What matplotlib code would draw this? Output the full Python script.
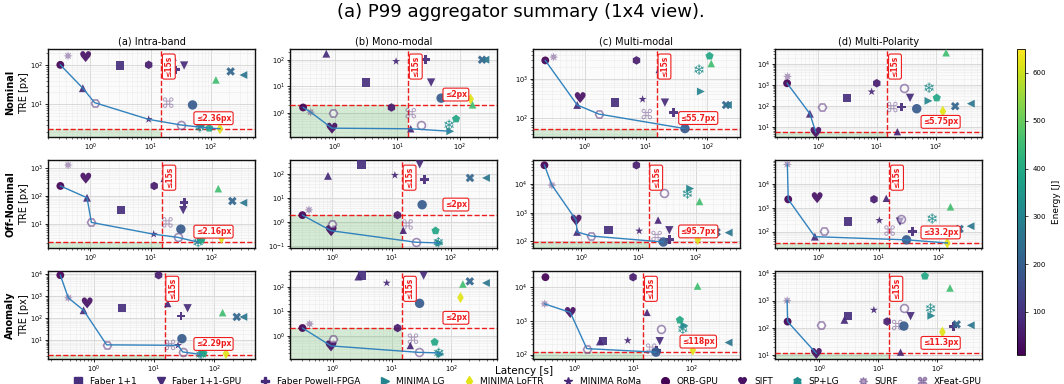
import numpy as np
import matplotlib
matplotlib.use("Agg")
import matplotlib.pyplot as plt
from matplotlib.colors import Normalize
from matplotlib.cm import ScalarMappable
from matplotlib.lines import Line2D

nan = np.nan

TITLE = "(a) P99 aggregator summary (1x4 view)."
SCENARIOS = ["Nominal", "Off-Nominal", "Anomaly"]
MODALITIES = ["(a) Intra-band", "(b) Mono-modal", "(c) Multi-modal", "(d) Multi-Polarity"]
LATENCY_BUDGET_S = 15.0
TRE_FLOOR_PX = 2.0
ENERGY_RANGE_J = (10.0, 650.0)

# Every list runs over the 12 panels: Nominal a-d, Off-Nominal a-d, Anomaly a-d.
# Latency in seconds, TRE in pixels (P99), NaN where a method has no result.
faber11_lat = [3.15, 3.15, 3.10, 3.12, 3.17, 3.10, 3.00, 3.04, 2.95, 3.10, 3.05, 3.03]
faber11_gpu_lat = [36, 35, 20.3, 36.5, 34, 30, 34.5, 22.5, 36, 34.4, 28.8, 35.2]
faber11_tre = [98, 14, 250, 248, 31, 256, 245, 260, 290, 285, 250, 265]

powell_fpga_lat = [26.2, 28.7, 27.8, 26.3, 35.3, 35.8, 34.5, 36, 28, nan, 25.4, 185]
powell_fpga_tre = [76, 100, 142, 91, 60, 61.5, 117, 100, 130, nan, 136, 110]

minima_lg_lat = [70, 71, 78, 75, 66, 65, 79.5, 75, 65, 66, 76.6, 79]
minima_lg_tre = [2.8, 0.21, 476, 178, 2.5, 0.14, 6840, 120, 2.5, 0.18, 735, 275]

minima_loftr_lat = [141, 151, nan, 132, 146, nan, 108, 138, 156, 144, 107, 122]
minima_loftr_tre = [2.36, 3.35, nan, 57, 3.0, nan, 117, 33.2, 2.5, 36, 136, 69]

minima_roma_lat = [9.3, 9.6, 8.8, 8.1, 11.1, 11.4, 10.3, 10.2, 25, 8.2, 8.1, 8.4]
minima_roma_tre = [4.1, 87, 304, 483, 4.2, 91, 232, 294, 6.0, 142, 262, 447]

orb_gpu_lat = [0.32, 0.31, 0.23, 0.295, 0.32, 0.31, 0.23, 0.31, 0.28, 0.31, 0.31, 0.29]
orb_lat = [9.3, 8.1, 7.0, 9.9, 11.3, 12.6, 9.2, 8.3, 11.9, 12.5, 10.0, 14.1]
orb_tre = [102, 1.63, 2870, 1220, 232, 2.0, 44400, 2240, 9300, 2.07, 20200, 168]

sift_lat = [0.84, 0.90, 0.85, 0.91, 0.84, 0.95, 0.82, 0.94, 0.78, 0.94, 0.83, 0.89]
sift_tre = [166, 0.274, 335, 5.75, 443, 0.45, 550, 2630, 510, 0.385, 1800, 11.3]

splg_lat = [65.6, 68, 73, 77, 60, 62, 71.4, 77.4, 60, 62, 72, 77]
splg_tre = [2.6, 0.365, 1690, 752, 2.16, 0.15, 4570, 350, 2.29, 0.2, 582, 515]

surf_lat = [0.43, 0.41, 0.315, 0.30, 0.43, 0.40, 0.31, 0.30, 0.38, 0.41, 0.30, 0.285]
surf_tre = [173, 1.09, 3480, 2550, 1320, 3.3, 9000, 65300, 860, 3.04, 3240, 1000]

xfeat_lat = [1.18, 0.95, 1.71, 1.17, 1.04, 1.0, 1.5, 1.24, 1.64, 1.03, 1.6, 1.07]
xfeat_gpu_lat = [19.6, 16.5, 10.3, 18.2, 18.7, 18.7, 20.7, 15.1, 18.4, 22.7, 20.5, 20.9]
xfeat_tre = [11, 1.0, 129, 91, 11.2, 0.82, 154, 110, 6.3, 0.76, 150, 126]

akaze_lat = [0.755, 0.73, 0.76, 0.72, 0.88, 0.84, 0.85, 0.86, 0.68, 2.72, 2.69, 2.66]
akaze_tre = [25.7, 168, 218, 44, 87, 85, 214, 61, 235, 260, 245, 194]

brisk_lat = [23.6, 16.5, 16.4, 22.2, 16.5, 15.8, 22, 13.3, 16.9, 20.5, 17.4, 23.8]
brisk_tre = [160, 0.26, 1690, 6.2, 430, 0.47, 550, 2460, 475, 0.40, 1800, 12.6]

kaze_lat = [31.7, 24.2, nan, 29.2, 27.4, 25.8, 28.2, 23, 29.9, 28.3, 30.7, 27.1]
kaze_tre = [2.95, 0.365, nan, 752, 3.25, 0.15, 4800, 350, 3.0, 0.21, 582, 515]

disk_lg_lat = [49.6, 50.7, 43, 47.4, 31.1, 33, 27.1, 28.9, 29, 29.4, 24.8, 27.1]
disk_lg_tre = [9.6, 3.65, 55.7, 76, 6.4, 5.4, 95.7, 45, 12, 21, 118, 115]

aliked_lg_lat = [93.8, 88, 108, 104, 68, 55.7, nan, nan, 66, 52.8, 64, 61.7]
aliked_lg_tre = [2.45, 0.61, 3700, 248, 2.6, 0.45, nan, nan, 2.6, 0.55, 1070, 7940]

dedode_lat = [121, 162, 115, 150, 129, nan, 116, 156, 137, 158, 129, 164]
dedode_tre = [42, 2.05, 2400, 34000, 185, nan, 2450, 1090, 184, 129, 11000, 2900]

dkm_lat = [212, 230, 200, 214, 220, 213, 230, 221, 235, 207, 199, 213]
dkm_tre = [69, 100, 218, 100, 66, 70, 210, 129, 117, 166, 228, 133]

gim_dkm_lat = [345, 260, 215, 395, 334, 398, 374, 337, 303, 388, 441, 369]
gim_dkm_tre = [56, 100, 218, 132, 57, 70, 202, 168, 117, 142, 228, 123]

# Mean energy per registration [J]
energy_j = {
    "Faber 1+1": 95, "Faber 1+1-GPU": 88, "Faber Powell-FPGA": 85,
    "MINIMA LG": 300, "MINIMA LoFTR": 620, "MINIMA RoMa": 80,
    "ORB-GPU": 12, "SIFT": 35, "SP+LG": 320, "SURF": 60, "XFeat-GPU": 60,
    "ORB": 55, "AKAZE": 85, "BRISK": 75, "XFeat": 60, "KAZE": 70,
    "DISK+LG": 190, "ALIKED+LG": 390, "DeDoDe": 455, "DKM": 215, "GIM+DKM": 262,
}

HEART = "$\u2665$"
SNOW = "$\u2744$"
CMD = "$\u2318$"

# name, latency, tre, marker, size, style, shown in legend
methods = [
    ("Faber 1+1", faber11_lat, faber11_tre, "s", 36, "solid", True),
    ("Faber 1+1-GPU", faber11_gpu_lat, faber11_tre, "v", 36, "solid", True),
    ("Faber Powell-FPGA", powell_fpga_lat, powell_fpga_tre, "P", 38, "solid", True),
    ("MINIMA LG", minima_lg_lat, minima_lg_tre, ">", 32, "solid", True),
    ("MINIMA LoFTR", minima_loftr_lat, minima_loftr_tre, "d", 32, "solid", True),
    ("MINIMA RoMa", minima_roma_lat, minima_roma_tre, "*", 36, "solid", True),
    ("ORB-GPU", orb_gpu_lat, orb_tre, "o", 32, "solid", True),
    ("SIFT", sift_lat, sift_tre, HEART, 62, "solid", True),
    ("SP+LG", splg_lat, splg_tre, SNOW, 58, "solid", True),
    ("SURF", surf_lat, surf_tre, (8, 1, 0), 42, "light", True),
    ("XFeat-GPU", xfeat_gpu_lat, xfeat_tre, CMD, 58, "light", True),
    ("ORB", orb_lat, orb_tre, "h", 38, "solid", False),
    ("AKAZE", akaze_lat, akaze_tre, "^", 32, "solid", False),
    ("BRISK", brisk_lat, brisk_tre, "^", 28, "solid", False),
    ("XFeat", xfeat_lat, xfeat_tre, "H", 34, "ring", False),
    ("KAZE", kaze_lat, kaze_tre, "o", 32, "ring", False),
    ("DISK+LG", disk_lg_lat, disk_lg_tre, "o", 46, "solid", False),
    ("ALIKED+LG", aliked_lg_lat, aliked_lg_tre, "p", 38, "solid", False),
    ("DeDoDe", dedode_lat, dedode_tre, "^", 30, "solid", False),
    ("DKM", dkm_lat, dkm_tre, "X", 38, "solid", False),
    ("GIM+DKM", gim_dkm_lat, gim_dkm_tre, "<", 32, "solid", False),
]

RED = "#ee1c1c"
FRONT = "#3182bd"
cmap = plt.get_cmap("viridis")
norm = Normalize(*ENERGY_RANGE_J)


def pareto_front(lat, tre):
    order = np.argsort(lat, kind="stable")
    best = np.inf
    fx, fy = [], []
    for i in order:
        if tre[i] < best:
            best = tre[i]
            fx.append(lat[i])
            fy.append(tre[i])
    return fx, fy


def draw_method(ax, x, y, marker, size, style, color):
    if style == "solid":
        ax.scatter([x], [y], marker=marker, s=size, color=color, edgecolors="none",
                   alpha=0.92, zorder=4)
    elif style == "light":
        ax.scatter([x], [y], marker=marker, s=size, color=color, edgecolors="none",
                   alpha=0.42, zorder=4)
    else:
        ax.scatter([x], [y], marker=marker, s=size, facecolors="white",
                   edgecolors=[color], linewidths=1.2, alpha=0.5, zorder=4)


plt.rcParams["font.family"] = ["DejaVu Sans"]
fig = plt.figure(figsize=(10.64, 3.84), dpi=100)
gs = fig.add_gridspec(3, 4, left=48 / 1064, right=982 / 1064, top=1 - 49 / 384,
                      bottom=1 - 359 / 384, wspace=0.1715, hspace=0.267)

for r, scen in enumerate(SCENARIOS):
    for c, mod in enumerate(MODALITIES):
        k = r * 4 + c
        ax = fig.add_subplot(gs[r, c])
        ax.set_xscale("log")
        ax.set_yscale("log")
        ax.set_facecolor("#fbfbfb")

        lats, tres = [], []
        for name, lat, tre, marker, size, style, _ in methods:
            x, y = lat[k], tre[k]
            if np.isnan(x) or np.isnan(y):
                continue
            lats.append(x)
            tres.append(y)
            draw_method(ax, x, y, marker, size, style, cmap(norm(energy_j[name])))
        lats = np.array(lats)
        tres = np.array(tres)

        x0, x1 = lats.min() / 1.6, lats.max() * 1.55
        y0, y1 = tres.min() / 1.6, tres.max() * 1.5
        ax.set_xlim(x0, x1)
        ax.set_ylim(y0, y1)

        thr = max(TRE_FLOOR_PX, tres.min())
        ax.fill_between([x0, LATENCY_BUDGET_S], [y0, y0], [thr, thr],
                        color="#2ca02c", alpha=0.18, lw=0, zorder=1)
        ax.axvline(LATENCY_BUDGET_S, color=RED, ls="--", lw=1.0, zorder=3)
        ax.axhline(thr, color=RED, ls="--", lw=1.0, zorder=3)

        fx, fy = pareto_front(lats, tres)
        ax.plot(fx, fy, color=FRONT, lw=1.0, zorder=5)

        box = dict(boxstyle="round,pad=0.25", fc="white", ec=RED, lw=0.8)
        ax.annotate(f"\u2264{LATENCY_BUDGET_S:g}s", xy=(LATENCY_BUDGET_S, 0.80),
                    xycoords=("data", "axes fraction"), xytext=(5.5, 0),
                    textcoords="offset points", rotation=90, ha="center", va="center",
                    fontsize=5.5, fontweight="bold", color=RED, bbox=box, zorder=7)
        ax.annotate(f"\u2264{thr:.3g}px", xy=(0.80, thr),
                    xycoords=("axes fraction", "data"), xytext=(0, 7.6),
                    textcoords="offset points", ha="center", va="center",
                    fontsize=5.5, fontweight="bold", color=RED, bbox=box, zorder=7)

        ax.grid(True, which="major", color="#d4d4d4", lw=0.6, zorder=0)
        ax.grid(True, which="minor", color="#ebebeb", lw=0.4, zorder=0)
        ax.set_axisbelow(True)
        ax.tick_params(which="major", labelsize=4.8, length=2.5, width=0.6, pad=1.2)
        ax.tick_params(which="minor", length=1.5, width=0.4)
        for sp in ax.spines.values():
            sp.set_linewidth(1.0)
            sp.set_color("#111111")

        if r == 0:
            ax.set_title(mod, fontsize=7, pad=3)
        if c == 0:
            ax.text(-0.182, 0.5, scen, transform=ax.transAxes, rotation=90,
                    ha="center", va="center", fontsize=7, fontweight="bold")
            ax.text(-0.118, 0.5, "TRE [px]", transform=ax.transAxes, rotation=90,
                    ha="center", va="center", fontsize=7)

fig.text(0.49, 0.969, TITLE, ha="center", va="center", fontsize=13)
fig.text(0.493, 1 - 371 / 384, "Latency [s]", ha="center", va="center", fontsize=7.5)

cax = fig.add_axes([1017 / 1064, 1 - 355 / 384, 8 / 1064, 306 / 384])
cb = fig.colorbar(ScalarMappable(norm=norm, cmap=cmap), cax=cax)
cb.ax.tick_params(labelsize=5, length=2, width=0.5)
cb.outline.set_linewidth(0.6)
cb.set_label("Energy [J]", fontsize=6.5, labelpad=4)

handles, labels = [], []
for name, lat, tre, marker, size, style, in_legend in methods:
    if not in_legend:
        continue
    col = cmap(norm(energy_j[name]))
    if style == "light":
        h = Line2D([], [], ls="none", marker=marker, color=col, alpha=0.42, markersize=6)
    else:
        h = Line2D([], [], ls="none", marker=marker, color=col, markersize=5.5)
    handles.append(h)
    labels.append(name)
fig.legend(handles, labels, loc="center", bbox_to_anchor=(0.496, 1 - 382 / 384),
           ncol=len(labels), frameon=False, fontsize=6.5, handlelength=1.0,
           handletextpad=0.8, columnspacing=2.15)

fig.savefig("out.png", dpi=100)
